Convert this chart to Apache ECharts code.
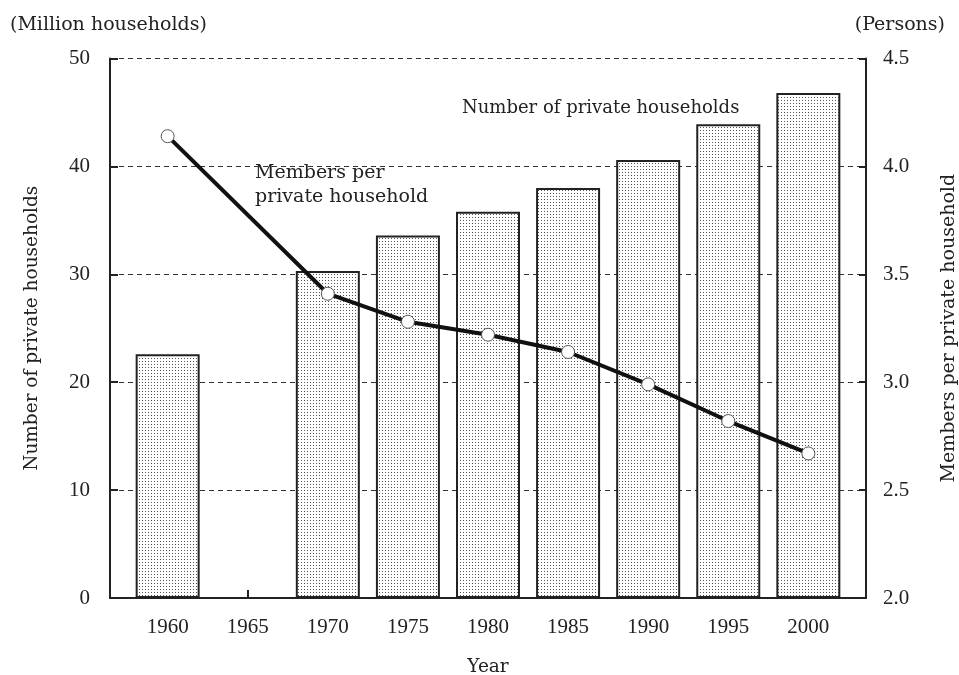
<!DOCTYPE html>
<html>
<head>
<meta charset="utf-8">
<script src="https://cdn.jsdelivr.net/npm/echarts@6/dist/echarts.min.js"></script>
<style>html,body{margin:0;padding:0;background:#fff}#c{width:959px;height:675px}</style>
</head>
<body>
<div id="c"></div>
<script>
var years = [1960, 1970, 1975, 1980, 1985, 1990, 1995, 2000];
var households = [22.6, 30.3, 33.6, 35.8, 38.0, 40.6, 43.9, 46.8];
var membersPerHousehold = [4.14, 3.41, 3.28, 3.22, 3.14, 2.99, 2.82, 2.67];
var leftTicks = [0, 10, 20, 30, 40, 50];
var rightTicks = [2.0, 2.5, 3.0, 3.5, 4.0, 4.5];

var FONT = 'DejaVu Serif';
var NUMFONT = 'Liberation Serif';
var TXT = '#222';
var TS = 18.5;
var NS = 21;

// dotted pattern for bars
var pc = document.createElement('canvas');
pc.width = 3; pc.height = 3;
var pctx = pc.getContext('2d');
pctx.fillStyle = '#ffffff';
pctx.fillRect(0, 0, 3, 3);
pctx.fillStyle = '#555555';
pctx.fillRect(1, 1, 1, 1);

var chart = echarts.init(document.getElementById('c'), null, {renderer: 'canvas'});
var barData = years.map(function (y, i) { return [y, households[i]]; });
var lineData = years.map(function (y, i) { return [y, membersPerHousehold[i]]; });

chart.setOption({
  animation: false,
  backgroundColor: '#fff',
  textStyle: {fontFamily: FONT, color: TXT},
  grid: {left: 110, right: 93, top: 58.5, bottom: 77, containLabel: false, outerBoundsMode: 'none'},
  xAxis: {
    type: 'value', min: 1956.4, max: 2003.6, minInterval: 5, maxInterval: 5,
    name: 'Year', nameLocation: 'middle', nameGap: 60,
    nameTextStyle: {fontFamily: FONT, fontSize: TS, color: TXT},
    axisLine: {show: true, onZero: false, lineStyle: {color: '#222', width: 2}},
    axisTick: {show: true, inside: true, length: 8, lineStyle: {color: '#222', width: 2}},
    axisLabel: {
      fontFamily: NUMFONT, fontSize: NS, color: TXT, margin: 19,
      showMinLabel: true, showMaxLabel: true,
      formatter: function (v) { return Math.abs(v % 5) < 1e-6 ? String(Math.round(v)) : ''; }
    },
    splitLine: {show: false}
  },
  yAxis: [{
    type: 'value', min: leftTicks[0], max: leftTicks[leftTicks.length - 1], interval: 10,
    name: 'Number of private households', nameLocation: 'middle', nameRotate: 90, nameGap: 68,
    nameTextStyle: {fontFamily: FONT, fontSize: TS, color: TXT},
    axisLine: {show: true, lineStyle: {color: '#222', width: 2}},
    axisTick: {show: true, inside: true, length: 8, lineStyle: {color: '#222', width: 2}},
    axisLabel: {fontFamily: NUMFONT, fontSize: NS, color: TXT, margin: 20},
    splitLine: {show: true, lineStyle: {color: '#333', width: 1, type: [5, 4]}}
  }, {
    type: 'value', min: rightTicks[0], max: rightTicks[rightTicks.length - 1], interval: 0.5,
    position: 'right',
    name: 'Members per private household', nameLocation: 'middle', nameRotate: 90, nameGap: 74,
    nameTextStyle: {fontFamily: FONT, fontSize: 19, color: TXT},
    axisLine: {show: true, lineStyle: {color: '#222', width: 2}},
    axisTick: {show: true, inside: true, length: 7, lineStyle: {color: '#222', width: 2}},
    axisLabel: {fontFamily: NUMFONT, fontSize: NS, color: TXT, margin: 17,
      formatter: function (v) { return v.toFixed(1); }},
    splitLine: {show: false}
  }],
  series: [{
    type: 'bar', name: 'Number of private households', xAxisIndex: 0, yAxisIndex: 0,
    data: barData, barWidth: 64,
    itemStyle: {color: {image: pc, repeat: 'repeat'}, borderColor: '#222', borderWidth: 2}
  }, {
    type: 'line', name: 'Members per private household', xAxisIndex: 0, yAxisIndex: 1,
    data: lineData, z: 5,
    lineStyle: {color: '#111', width: 4},
    symbol: 'circle', symbolSize: 13, showAllSymbol: true,
    itemStyle: {color: '#fff', borderColor: '#555', borderWidth: 1}
  }],
  graphic: [
    {type: 'text', left: 10, top: 16, style: {text: '(Million households)', font: '19px "DejaVu Serif"', fill: TXT}},
    {type: 'text', right: 14, top: 16, style: {text: '(Persons)', font: '19px "DejaVu Serif"', fill: TXT}},
    {type: 'text', left: 462, top: 99, style: {text: 'Number of private households', font: '18px "DejaVu Serif"', fill: TXT}},
    {type: 'text', left: 255, top: 161, style: {text: 'Members per\nprivate household', font: '19px "DejaVu Serif"', fill: TXT, lineHeight: 24}}
  ]
});
</script>
</body>
</html>
